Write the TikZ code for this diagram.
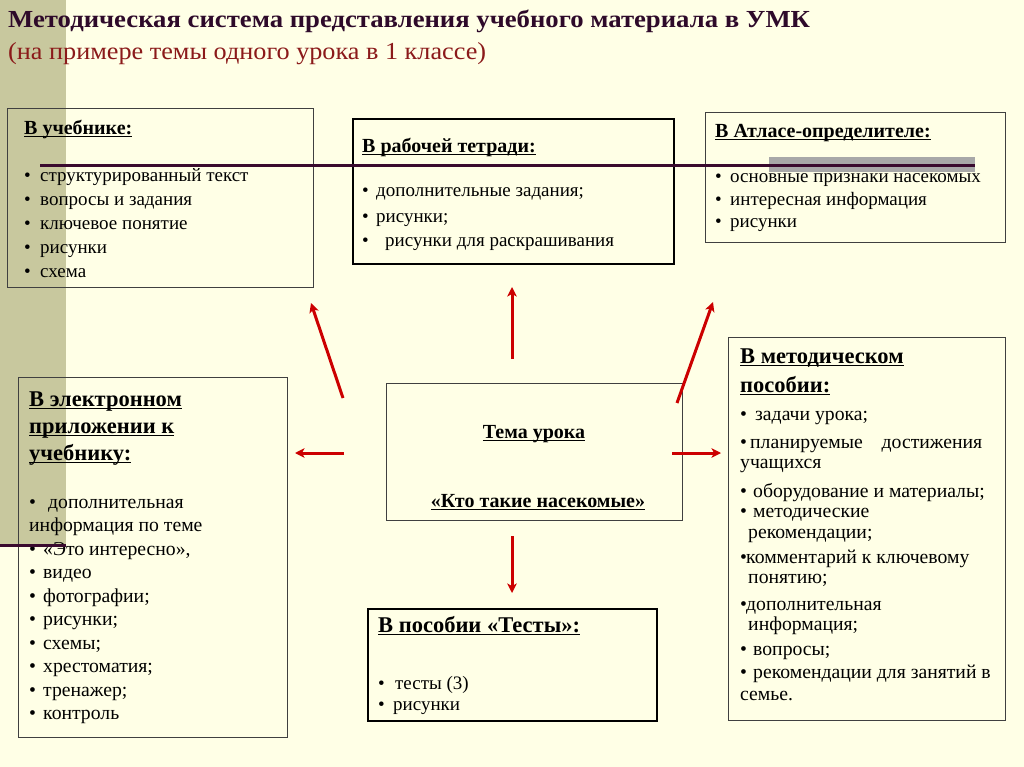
\documentclass[tikz,border=0pt]{standalone}
\usepackage{fontspec}
\setmainfont{Liberation Serif}
\newfontfamily\titlefont[FakeStretch=1.09]{Liberation Serif}
\newfontfamily\subfont[FakeStretch=1.07]{Liberation Serif}
\usetikzlibrary{arrows.meta}
\definecolor{bg}{HTML}{FFFFE6}
\definecolor{olivebar}{HTML}{C8C89E}
\definecolor{plum}{HTML}{3A0A2E}
\definecolor{ttl}{HTML}{2E0A2A}
\definecolor{subc}{HTML}{8B1A1A}
\definecolor{arr}{HTML}{CC0000}
\definecolor{bord}{HTML}{404040}
\definecolor{graybar}{HTML}{A8A8A8}
\newlength\hdlen
\newcommand\hdr[1]{\settowidth\hdlen{#1}\rlap{\rule[-2.5pt]{\hdlen}{1pt}}#1}
\newcommand\bl[1][16pt]{\makebox[#1][l]{•}}
\newcommand\li[1]{\hbox{#1}}
\newcommand\stack[2]{\vtop{\baselineskip=#1\lineskiplimit=-1000pt\lineskip=0pt #2}}
\begin{document}
\begin{tikzpicture}[x=1pt,y=-1pt,
  box/.style={draw=bord, line width=1.2pt, anchor=north west, inner sep=0pt},
  heavybox/.style={draw=black, line width=2pt, anchor=north west, inner sep=0pt},
  hd/.style={anchor=base west, inner sep=0pt, font=\fontsize{20}{27}\selectfont\bfseries},
  bighd/.style={anchor=base west, inner sep=0pt, font=\fontsize{22.5}{27}\selectfont\bfseries},
  body/.style={anchor=base west, inner sep=0pt, font=\fontsize{19}{24}\selectfont},
  bodyl/.style={anchor=base west, inner sep=0pt, font=\fontsize{19.7}{24}\selectfont},
  arrow/.style={draw=arr, line width=3pt, -{Stealth[length=9.5pt,width=9.5pt,inset=2.5pt]}}
]
\fill[bg] (0,0) rectangle (1024,767);
\useasboundingbox (0,0) rectangle (1024,767);
\fill[olivebar] (0,0) rectangle (66,544);

\node[anchor=base west, inner sep=0pt, font=\titlefont\fontsize{24.5}{24}\selectfont\bfseries, text=ttl] (title) at (8,28) {Методическая система представления учебного материала в УМК};
\node[anchor=base west, inner sep=0pt, font=\subfont\fontsize{24.5}{24}\selectfont, text=subc] (subtitle) at (8,60) {(на примере темы одного урока в 1 классе)};

% boxes
\node[box, minimum width=306pt, minimum height=179pt] (b1) at (7,108) {};
\node[heavybox, minimum width=321pt, minimum height=145pt] (b2) at (352,118) {};
\node[box, minimum width=300pt, minimum height=130pt] (b3) at (705,112) {};
\node[box, minimum width=269pt, minimum height=360pt] (b4) at (18,377) {};
\node[box, minimum width=277pt, minimum height=383pt] (b5) at (728,337) {};
\node[box, minimum width=296pt, minimum height=137pt] (b6) at (386,383) {};
\node[heavybox, minimum width=289pt, minimum height=112pt] (b7) at (367,608) {};

% box 1
\node[hd] (h1) at (24,135) {\hdr{В учебнике:}};
\node[body] (l1) at (24,182) {\stack{24pt}{\li{\bl структурированный текст}\li{\bl вопросы и задания}\li{\bl ключевое понятие}\li{\bl рисунки}\li{\bl схема}}};

% box 2
\node[hd] (h2) at (362,153) {\hdr{В рабочей тетради:}};
\node[body] (l2) at (362,197) {\stack{25pt}{\li{\bl[14pt]дополнительные задания;}\li{\bl[14pt]рисунки;}\li{\bl[23pt]рисунки для раскрашивания}}};

% box 3
\node[hd] (h3) at (715,138) {\hdr{В Атласе-определителе:}};
\node[body] (l3) at (715,183) {\stack{22.5pt}{\li{\bl[15pt]основные признаки насекомых}\li{\bl[15pt]интересная информация}\li{\bl[15pt]рисунки}}};

% box 4
\node[bighd] (h4) at (29,406) {\stack{27pt}{\li{\hdr{В электронном}}\li{\hdr{приложении к}}\li{\hdr{учебнику:}}}};
\node[bodyl] (l4) at (29,508) {\stack{23.5pt}{\li{\bl[19pt]дополнительная}\li{информация по теме}\li{\bl[14pt]«Это интересно»,}\li{\bl[14pt]видео}\li{\bl[14pt]фотографии;}\li{\bl[14pt]рисунки;}\li{\bl[14pt]схемы;}\li{\bl[14pt]хрестоматия;}\li{\bl[14pt]тренажер;}\li{\bl[14pt]контроль}}};

% box 5
\node[bighd] (h5) at (740,363) {\stack{29pt}{\li{\hdr{В методическом}}\li{\hdr{пособии:}}}};
\node[bodyl] (l5) at (740,420) {\stack{20pt}{%
\li{\bl[15pt]задачи урока;}\vskip8pt
\hbox to 242pt{\bl[10pt]планируемые\hfill достижения}
\li{учащихся}\vskip9pt
\li{\bl[13pt]оборудование и материалы;}
\li{\bl[13pt]методические}\vskip1pt
\li{\hspace*{8pt}рекомендации;}\vskip5pt
\li{\bl[6pt]комментарий к ключевому}
\li{\hspace*{8pt}понятию;}\vskip7pt
\li{\bl[6pt]дополнительная}
\li{\hspace*{8pt}информация;}\vskip5pt
\li{\bl[13pt]вопросы;}\vskip3pt
\li{\bl[13pt]рекомендации для занятий в}\vskip2pt
\li{семье.}}};

% box 6
\node[hd, anchor=base] (h6) at (534,438) {\hdr{Тема урока}};
\node[hd, anchor=base] (h6b) at (538,507) {\hdr{«Кто такие насекомые»}};

% box 7
\node[bighd] (h7) at (378,632) {\hdr{В пособии «Тесты»:}};
\node[body] (l7) at (378,689) {\stack{21pt}{\li{\bl[17pt]тесты (3)}\li{\bl[15pt]рисунки}}};

% decorative bars
\fill[graybar] (769,157) rectangle (975,172);
\draw[plum, line width=3pt] (40,166) -- (975,166);
\draw[plum, line width=3.5pt] (0,545.5) -- (66,545.5);

% arrows
\coordinate (a1s) at (343,398); \coordinate (a1e) at (311,303);
\coordinate (a2s) at (512,359); \coordinate (a2e) at (512,287);
\coordinate (a3s) at (677,403); \coordinate (a3e) at (713,302);
\coordinate (a4s) at (344,453); \coordinate (a4e) at (295,453);
\coordinate (a5s) at (672,453); \coordinate (a5e) at (721,453);
\coordinate (a6s) at (512,536); \coordinate (a6e) at (512,593);
\draw[arrow] (a1s) -- (a1e);
\draw[arrow] (a2s) -- (a2e);
\draw[arrow] (a3s) -- (a3e);
\draw[arrow] (a4s) -- (a4e);
\draw[arrow] (a5s) -- (a5e);
\draw[arrow] (a6s) -- (a6e);
\end{tikzpicture}
\end{document}
